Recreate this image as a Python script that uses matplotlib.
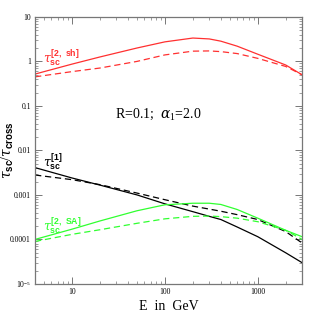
import matplotlib
matplotlib.use("Agg")
import matplotlib.pyplot as plt
import numpy as np
from matplotlib.ticker import FixedLocator, FixedFormatter, LogLocator, NullFormatter

plt.rcParams["font.family"] = ["Liberation Serif", "DejaVu Serif"]
plt.rcParams["mathtext.fontset"] = "custom"
plt.rcParams["mathtext.rm"] = "Liberation Serif"
plt.rcParams["mathtext.it"] = "DejaVu Serif:italic"
plt.rcParams["mathtext.bf"] = "Liberation Sans:bold"

energy = [4, 10, 20, 50, 100, 200, 300, 400, 600, 1000, 2000, 3000]

# tau_sc^[2, sh] / tau_cross
sh_solid = [0.52, 0.87, 1.26, 2.0, 2.75, 3.35, 3.2, 2.85, 2.2, 1.45, 0.83, 0.5]
sh_dash = [0.45, 0.59, 0.71, 1.0, 1.4, 1.7, 1.72, 1.66, 1.5, 1.17, 0.77, 0.5]
# tau_sc^[1] / tau_cross
one_solid = [0.0041, 0.0024, 0.00166, 0.001, 6.3e-4, 4.2e-4, 3.3e-4, 2.8e-4, 1.9e-4, 1.15e-4, 5e-5, 3e-5]
one_dash = [0.0028, 0.0022, 0.0017, 0.0011, 7.8e-4, 5.6e-4, 4.8e-4, 4.3e-4, 3.6e-4, 2.8e-4, 1.5e-4, 8.3e-5]
# tau_sc^[2, SA] / tau_cross
sa_solid = [1.0e-4, 1.7e-4, 2.6e-4, 4.4e-4, 6.0e-4, 6.5e-4, 6.5e-4, 6.1e-4, 4.7e-4, 3.0e-4, 1.6e-4, 1.15e-4]
sa_dash = [9e-5, 1.3e-4, 1.65e-4, 2.3e-4, 2.9e-4, 3.3e-4, 3.35e-4, 3.25e-4, 3.0e-4, 2.5e-4, 1.6e-4, 1.0e-4]

yticks = [1e-5, 1e-4, 1e-3, 1e-2, 0.1, 1, 10]
ylabels = ["$10^{-5}$", "0.0001", "0.001", "0.01", "0.1", "1", "10"]
xticks = [10, 100, 1000]
xlabels = ["10", "100", "1000"]

fig = plt.figure(figsize=(3.19, 3.19), dpi=100)
ax = fig.add_axes([0.11, 0.11, 0.837, 0.837])

ax.plot(energy, sh_solid, color="#ff3030", lw=0.9)
ax.plot(energy, sh_dash, color="#ff3030", lw=0.9, ls=(0, (5, 3)))
ax.plot(energy, one_solid, color="black", lw=0.9)
ax.plot(energy, one_dash, color="black", lw=0.9, ls=(0, (5, 3)))
ax.plot(energy, sa_solid, color="#30ff30", lw=0.9)
ax.plot(energy, sa_dash, color="#30ff30", lw=0.9, ls=(0, (5, 3)))

ax.set_xscale("log")
ax.set_yscale("log")
ax.set_xlim(4, 3000)
ax.set_ylim(1e-5, 10)

ax.yaxis.set_major_locator(FixedLocator(yticks))
ax.yaxis.set_major_formatter(FixedFormatter(ylabels))
ax.yaxis.set_minor_locator(LogLocator(base=10, subs=np.arange(2, 10), numticks=20))
ax.yaxis.set_minor_formatter(NullFormatter())
ax.xaxis.set_major_locator(FixedLocator(xticks))
ax.xaxis.set_major_formatter(FixedFormatter(xlabels))
ax.xaxis.set_minor_locator(LogLocator(base=10, subs=np.arange(2, 10), numticks=20))
ax.xaxis.set_minor_formatter(NullFormatter())

ax.tick_params(which="both", direction="in", top=True, right=True, color="#777777", labelsize=5.5, pad=3)
ax.tick_params(which="major", length=5, width=0.7)
ax.tick_params(which="minor", length=2.5, width=0.5)
for s in ax.spines.values():
    s.set_color("#777777")
    s.set_linewidth(0.9)

ax.text(4.9, 0.95, r"$\tau_{\mathbf{sc}}^{\mathbf{[2,\ sh]}}$", color="#ff3030", fontsize=9)
ax.text(4.9, 0.0043, r"$\tau_{\mathbf{sc}}^{\mathbf{[1]}}$", color="black", fontsize=9)
ax.text(4.9, 1.6e-4, r"$\tau_{\mathbf{sc}}^{\mathbf{[2,\ SA]}}$", color="#30ff30", fontsize=9)
ax.text(29, 0.055, r"R=0.1;  $\alpha_1$=2.0", fontsize=10)

ax.set_xlabel("E  in  GeV", fontsize=10, labelpad=3)
ax.set_ylabel(r"$\tau_{\mathbf{sc}}/\tau_{\mathbf{cross}}$", fontsize=10)
ax.yaxis.set_label_coords(-0.07, 0.5)

fig.savefig("out.png", dpi=100)
